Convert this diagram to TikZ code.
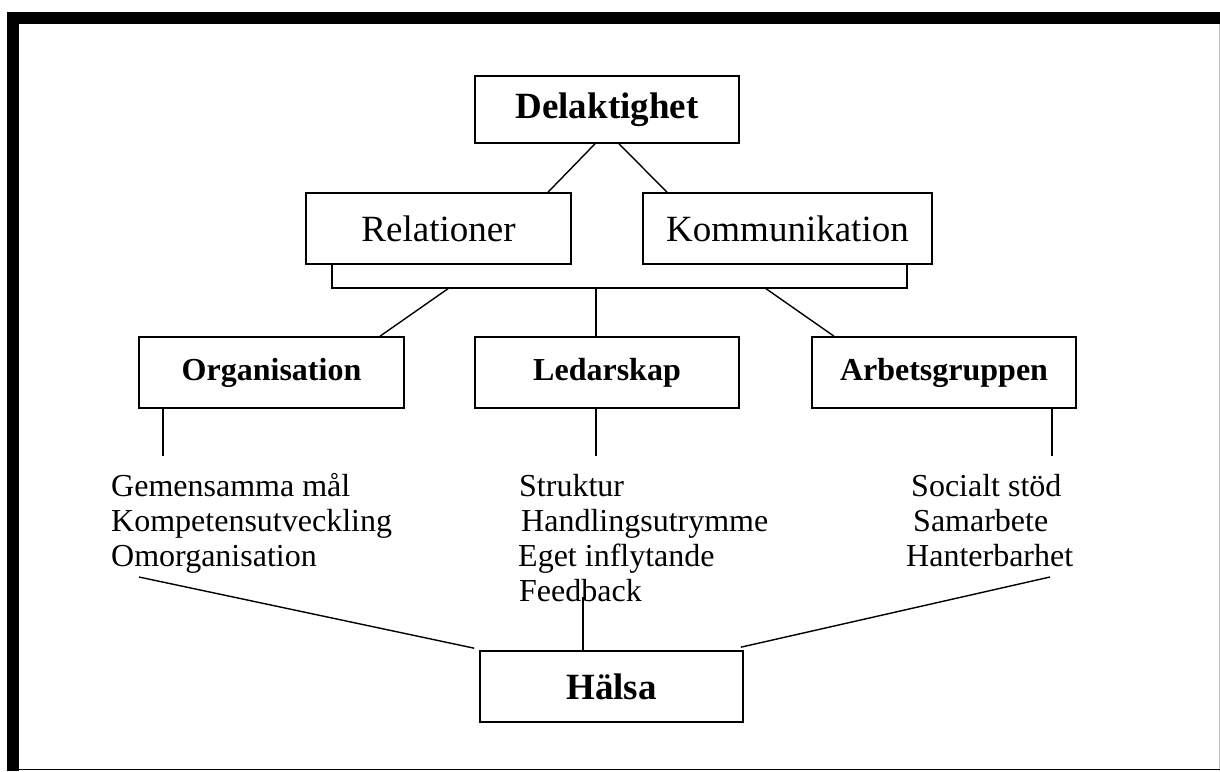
\documentclass[tikz,border=0pt]{standalone}
\usepackage{fontspec}
\setmainfont{Liberation Serif}
\begin{document}
\begin{tikzpicture}[x=1pt,y=-1pt,
  box/.style={draw, line width=1.6pt, inner sep=0pt, minimum height=71pt},
  conn/.style={line width=1.4pt},
  bigtxt/.style={font=\fontsize{37}{40}\selectfont},
  bigbold/.style={font=\bfseries\fontsize{37}{40}\selectfont},
  midbold/.style={font=\bfseries\fontsize{32}{35}\selectfont},
  item/.style={anchor=base west, inner sep=0pt, font=\fontsize{32}{35}\selectfont}]
\useasboundingbox (0,0) rectangle (1220,771);
% frame
\fill (7,12) rectangle (19,771);
\fill (7,12) rectangle (1220,24);
\draw[black!25, line width=1pt] (1219.5,24) -- (1219.5,771);
\draw[line width=1.5pt] (19,769.5) -- (1220,769.5);
% boxes
\node[box, minimum width=264pt, minimum height=67pt, bigbold] (del) at (607,109.5) {Delaktighet};
\node[box, minimum width=265pt, bigtxt] (rel) at (438.5,228.5) {Relationer};
\node[box, minimum width=289pt, bigtxt] (kom) at (787.5,228.5) {Kommunikation};
\node[box, minimum width=265pt, midbold] (org) at (271.5,372.5) {Organisation};
\node[box, minimum width=264pt, midbold] (led) at (607,372.5) {Ledarskap};
\node[box, minimum width=264pt, midbold] (arb) at (944,372.5) {Arbetsgruppen};
\node[box, minimum width=263pt, bigbold] (hal) at (611.5,686.5) {Hälsa};
% top connectors
\draw[conn] ([xshift=-12pt]del.south) -- ([xshift=109.5pt]rel.north);
\draw[conn] ([xshift=12pt]del.south) -- ([xshift=-120.5pt]kom.north);
\coordinate (brA) at (449,288);
\coordinate (brB) at (596,288);
\coordinate (brC) at (765,288);
\draw[conn] ([xshift=-106.5pt]rel.south) |- (brB) -| ([xshift=119.5pt]kom.south);
\draw[conn] (brA) -- ([xshift=108.5pt]org.north);
\draw[conn] (brB) -- (brB |- led.north);
\draw[conn] (brC) -- ([xshift=-110pt]arb.north);
% lower stubs
\coordinate (oe) at (163,456);
\coordinate (le) at (596,456);
\coordinate (ae) at (1052,456);
\draw[conn] (oe |- org.south) -- (oe);
\draw[conn] (le |- led.south) -- (le);
\draw[conn] (ae |- arb.south) -- (ae);
% lists
\node[item] (g1) at (111,496) {Gemensamma mål};
\node[item] (g2) at (111,531) {Kompetensutveckling};
\node[item] (g3) at (111,566) {Omorganisation};
\node[item] (s1) at (519,496) {Struktur};
\node[item] (s2) at (521,531) {Handlingsutrymme};
\node[item] (s3) at (518,566) {Eget inflytande};
\node[item] (s4) at (519,601) {Feedback};
\node[item] (r1) at (911,496) {Socialt stöd};
\node[item] (r2) at (913,531) {Samarbete};
\node[item] (r3) at (906,566) {Hanterbarhet};
% lines to Hälsa
\coordinate (hl) at (139,577);
\coordinate (hm) at (583,597);
\coordinate (hr) at (1050,577);
\draw[conn] (hl) -- ([xshift=-5pt,yshift=2pt]hal.north west);
\draw[conn] (hm) -- (hm |- hal.north);
\draw[conn] (hr) -- ([xshift=-3pt,yshift=3pt]hal.north east);
\end{tikzpicture}
\end{document}
